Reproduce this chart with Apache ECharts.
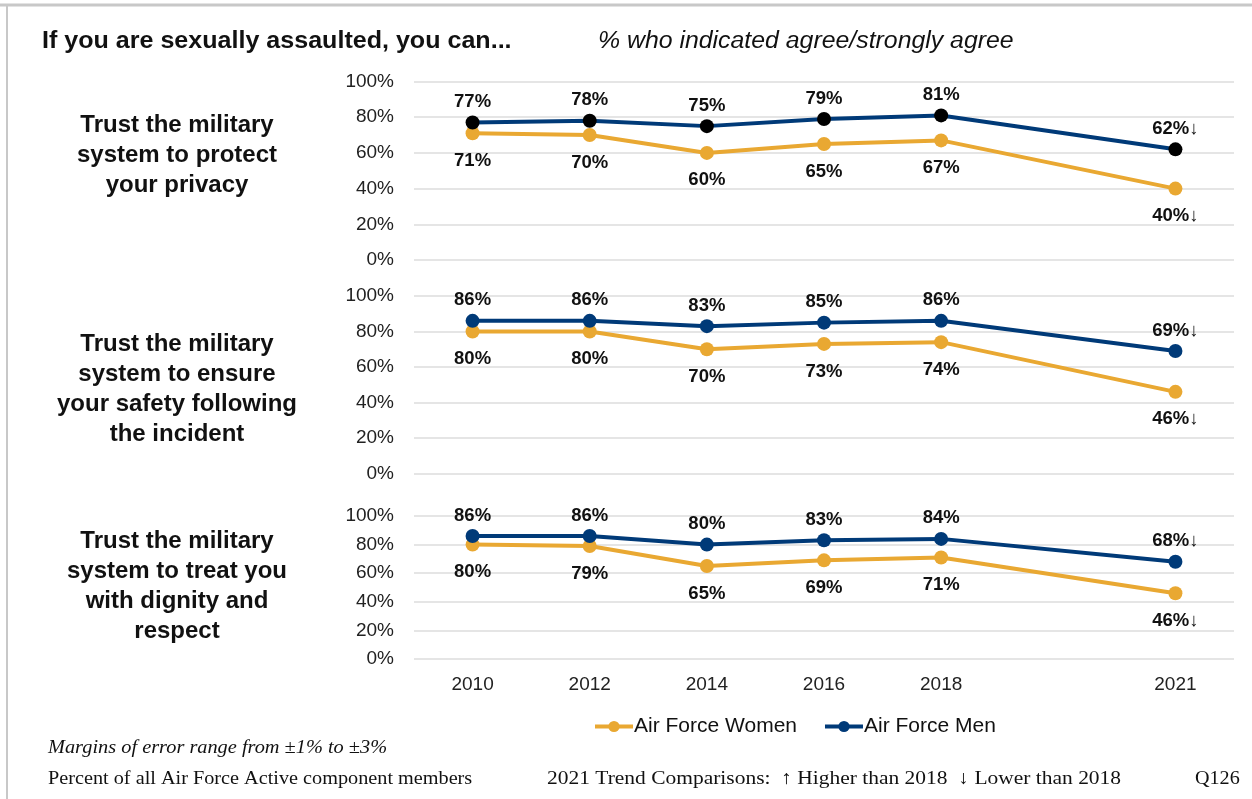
<!DOCTYPE html>
<html>
<head>
<meta charset="utf-8">
<script src="https://cdn.jsdelivr.net/npm/echarts@6/dist/echarts.min.js"></script>
<style>
html,body{margin:0;padding:0;background:#fff;}
#chart{width:1252px;height:799px;}
</style>
</head>
<body>
<div id="chart"></div>
<script>
const years = ['2010','2012','2014','2016','2018','','2021'];
const yTicks = [0,20,40,60,80,100];
const panelTitles = [
  'Trust the military\nsystem to protect\nyour privacy',
  'Trust the military\nsystem to ensure\nyour safety following\nthe incident',
  'Trust the military\nsystem to treat you\nwith dignity and\nrespect'
];
const women1 = [71,70,60,65,67,null,40];
const men1   = [77,78,75,79,81,null,62];
const women2 = [80,80,70,73,74,null,46];
const men2   = [86,86,83,85,86,null,69];
const women3 = [80,79,65,69,71,null,46];
const men3   = [86,86,80,83,84,null,68];
const trendWomen = ['','','','','','','↓'];
const trendMen   = ['','','','','','','↓'];
const seriesNames = ['Air Force Women','Air Force Men'];

const GOLD = '#E9A832';
const NAVY = '#003A78';
const FONT = "'Liberation Sans', Arial, sans-serif";
const SERIF = "'Liberation Serif', 'Times New Roman', serif";

const grids = [
  {left:414, right:18, top:81.5, height:178.5},
  {left:414, right:18, top:296, height:177.5},
  {left:414, right:18, top:516, height:143}
];
const titleCenters = [155, 389, 586];

const xAxes = grids.map((g,i)=>({
  type:'category', gridIndex:i, data:years, boundaryGap:true,
  axisLine:{show:false}, axisTick:{show:false},
  axisLabel:{show:i===2, color:'#222', fontSize:19, fontFamily:FONT, margin:16}
}));
const yAxes = grids.map((g,i)=>({
  type:'value', gridIndex:i, min:0, max:100, interval:20,
  axisLine:{show:false}, axisTick:{show:false},
  axisLabel:{color:'#222', fontSize:19, fontFamily:FONT, margin:20, formatter:v=>v+'%'},
  splitLine:{lineStyle:{color:'#dcdcdc', width:1.5}}
}));

function mkSeries(name, data, gi, color, markerColor, pos, dist, trend){
  return {
    name, type:'line', xAxisIndex:gi, yAxisIndex:gi, data,
    connectNulls:true, symbol:'circle', symbolSize:14,
    lineStyle:{color, width:4},
    itemStyle:{color:markerColor},
    z: name===seriesNames[1]?3:2,
    label:{show:true, position:pos, distance:dist, fontSize:18.5, fontWeight:'bold',
      fontFamily:FONT, color:'#111',
      formatter:p=>p.value+'%'+trend[p.dataIndex]}
  };
}

const series = [
  mkSeries(seriesNames[0], women1, 0, GOLD, GOLD, 'bottom', 11, trendWomen),
  mkSeries(seriesNames[1], men1, 0, NAVY, '#000', 'top', 4, trendMen),
  mkSeries(seriesNames[0], women2, 1, GOLD, GOLD, 'bottom', 11, trendWomen),
  mkSeries(seriesNames[1], men2, 1, NAVY, NAVY, 'top', 4, trendMen),
  mkSeries(seriesNames[0], women3, 2, GOLD, GOLD, 'bottom', 11, trendWomen),
  mkSeries(seriesNames[1], men3, 2, NAVY, NAVY, 'top', 4, trendMen)
];

function txt(x, y, text, font, sx){
  return {type:'text', x, y, scaleX:sx||1, originX:0, originY:0,
    style:{text, font, fill:'#111', align:'left', verticalAlign:'middle'}};
}

const graphics = [
  {type:'line', shape:{x1:0,y1:5,x2:1252,y2:5}, style:{stroke:'#c8c8c8', lineWidth:3}},
  {type:'line', shape:{x1:7,y1:5,x2:7,y2:799}, style:{stroke:'#c8c8c8', lineWidth:2}},
  txt(42, 42, 'If you are sexually assaulted, you can...', "bold 23px "+FONT, 1.09),
  txt(598, 42, '% who indicated agree/strongly agree', "italic 23px "+FONT, 1.08),
  txt(48, 748, 'Margins of error range from ±1% to ±3%', "italic 19px "+SERIF, 1.07),
  txt(48, 779, 'Percent of all Air Force Active component members', "19px "+SERIF, 1.065),
  txt(547, 779, '2021 Trend Comparisons:  ↑ Higher than 2018  ↓ Lower than 2018', "19px "+SERIF, 1.13),
  txt(1195, 779, 'Q126', "19px "+SERIF, 1.06)
];
panelTitles.forEach((t,i)=>{
  const n = t.split('\n').length;
  graphics.push({type:'text', x:177, y:titleCenters[i] - n*30/2,
    style:{text:t, font:"bold 24px "+FONT, fill:'#111', align:'center', verticalAlign:'top', lineHeight:30}});
});

const chart = echarts.init(document.getElementById('chart'), null, {renderer:'canvas'});
chart.setOption({
  animation:false,
  backgroundColor:'#fff',
  grid:grids,
  xAxis:xAxes,
  yAxis:yAxes,
  legend:{
    top:711, left:588, itemWidth:38, itemHeight:14, itemGap:26,
    textStyle:{fontSize:21, fontFamily:FONT, color:'#111', padding:[0,0,0,-4]},
    data:[
      {name:seriesNames[0], itemStyle:{color:GOLD}, lineStyle:{color:GOLD, width:4}},
      {name:seriesNames[1], itemStyle:{color:NAVY}, lineStyle:{color:NAVY, width:4}}
    ]
  },
  series,
  graphic:graphics
});
</script>
</body>
</html>
